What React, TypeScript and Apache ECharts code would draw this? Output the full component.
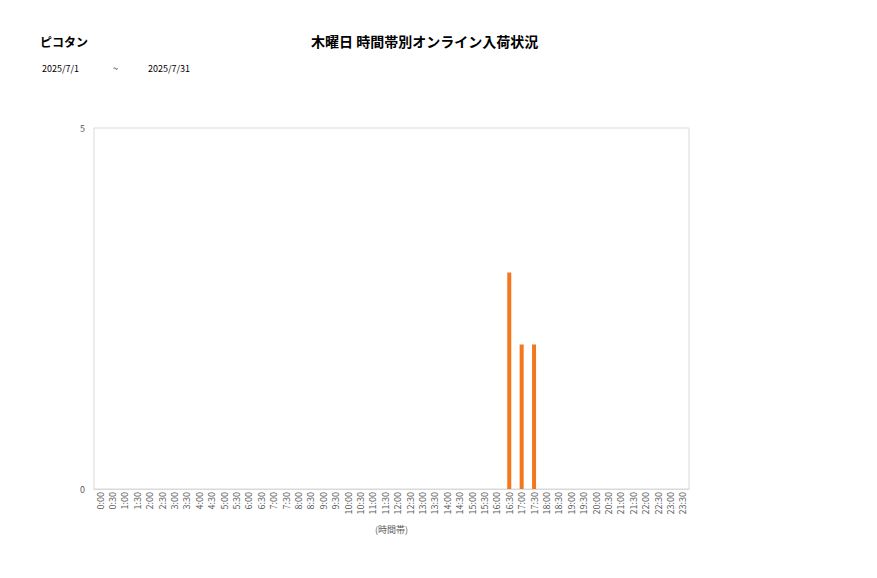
import React, { useEffect, useRef } from "react";
import * as echarts from "echarts";

const hours: string[] = [
  "0:00","0:30","1:00","1:30","2:00","2:30","3:00","3:30","4:00","4:30","5:00","5:30",
  "6:00","6:30","7:00","7:30","8:00","8:30","9:00","9:30","10:00","10:30","11:00","11:30",
  "12:00","12:30","13:00","13:30","14:00","14:30","15:00","15:30","16:00","16:30","17:00","17:30",
  "18:00","18:30","19:00","19:30","20:00","20:30","21:00","21:30","22:00","22:30","23:00","23:30",
];
const arrivals: number[] = [
  0,0,0,0,0,0,0,0,0,0,0,0,
  0,0,0,0,0,0,0,0,0,0,0,0,
  0,0,0,0,0,0,0,0,0,3,2,2,
  0,0,0,0,0,0,0,0,0,0,0,0,
];
const yTicks = { min: 0, max: 5, interval: 5 };
const storeName = "ピコタン";
const chartTitle = "木曜日 時間帯別オンライン入荷状況";
const dateFrom = "2025/7/1";
const dateSep = "~";
const dateTo = "2025/7/31";
const axisName = "(時間帯)";

const FONT = '"Noto Sans CJK JP", "Noto Sans", sans-serif';

export default function App() {
  const ref = useRef<HTMLDivElement>(null);
  useEffect(() => {
    if (!ref.current) return;
    const chart = echarts.init(ref.current, undefined, { renderer: "svg" });
    chart.setOption({
      animation: false,
      backgroundColor: "#ffffff",
      textStyle: { fontFamily: FONT },
      graphic: [
        { type: "text", left: 40, top: 35, style: { text: storeName, fontSize: 12, fontWeight: "bold", fontFamily: FONT, fill: "#000" } },
        { type: "text", left: 311, top: 34, style: { text: chartTitle, fontSize: 14, fontWeight: "bold", fontFamily: FONT, fill: "#000" } },
        { type: "text", left: 42, top: 64, style: { text: dateFrom, fontSize: 9, fontFamily: FONT, fill: "#000" } },
        { type: "text", left: 113, top: 64, style: { text: dateSep, fontSize: 9, fontFamily: FONT, fill: "#000" } },
        { type: "text", left: 148, top: 64, style: { text: dateTo, fontSize: 9, fontFamily: FONT, fill: "#000" } },
      ],
      grid: {
        left: 94, right: 188, top: 128, bottom: 89,
        show: true, borderColor: "#d9d9d9", borderWidth: 1, backgroundColor: "#fff",
      },
      xAxis: {
        type: "category",
        data: hours,
        boundaryGap: true,
        name: axisName,
        nameLocation: "middle",
        nameGap: 36,
        nameTextStyle: { fontSize: 9, color: "#595959", fontFamily: FONT },
        axisLine: { show: true, lineStyle: { color: "#d9d9d9" } },
        axisTick: { show: false },
        axisLabel: { interval: 0, rotate: 90, fontSize: 9, color: "#595959", margin: 3, fontFamily: FONT },
        splitLine: { show: false },
      },
      yAxis: {
        type: "value",
        min: yTicks.min,
        max: yTicks.max,
        interval: yTicks.interval,
        axisLine: { show: false },
        axisTick: { show: false },
        splitLine: { show: false },
        axisLabel: { fontSize: 9, color: "#595959", margin: 9, fontFamily: FONT },
      },
      series: [
        {
          type: "bar",
          data: arrivals,
          barWidth: 4,
          itemStyle: { color: "#f4761f" },
        },
      ],
    });
    return () => chart.dispose();
  }, []);
  return (
    <div
      ref={ref}
      style={{ position: "fixed", left: 0, top: 0, width: 877, height: 578, background: "#fff" }}
    />
  );
}
